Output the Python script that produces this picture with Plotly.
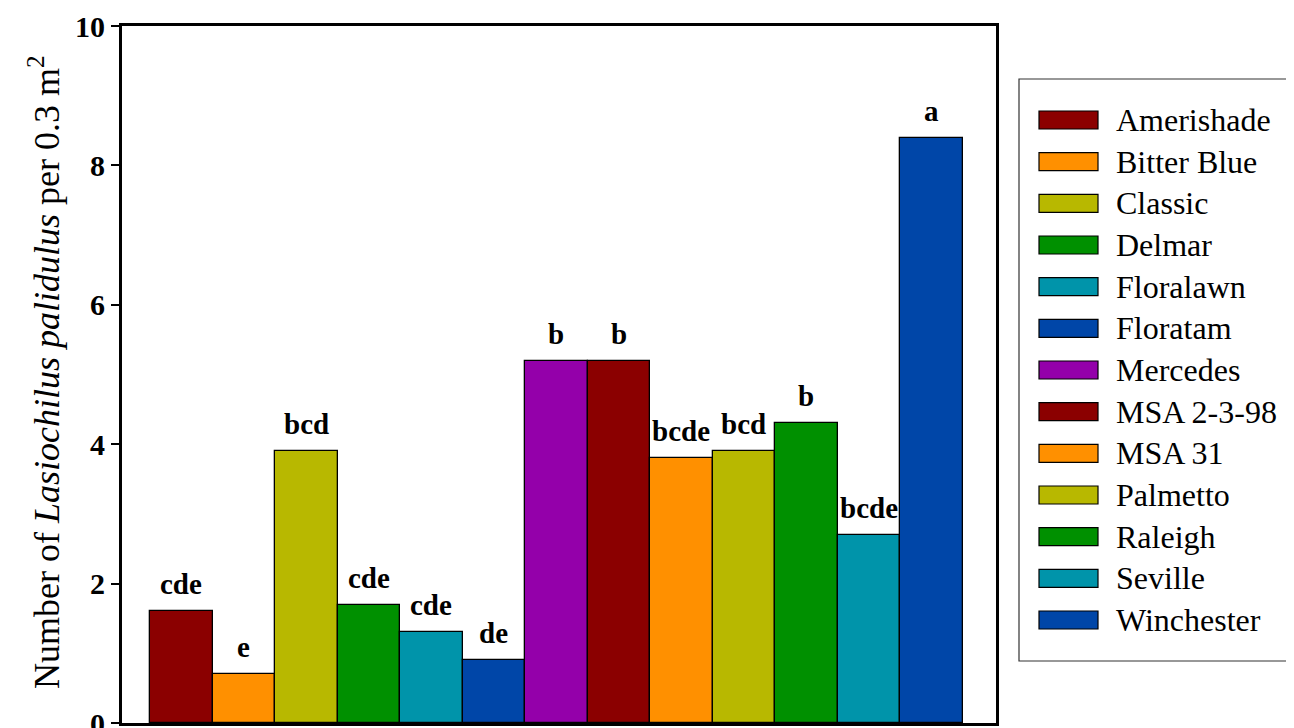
import plotly.graph_objects as go

cultivars = ["Amerishade", "Bitter Blue", "Classic", "Delmar", "Floralawn", "Floratam",
             "Mercedes", "MSA 2-3-98", "MSA 31", "Palmetto", "Raleigh", "Seville", "Winchester"]
values = [1.6, 0.7, 3.9, 1.7, 1.3, 0.9, 5.2, 5.2, 3.8, 3.9, 4.3, 2.7, 8.4]
letters = ["cde", "e", "bcd", "cde", "cde", "de", "b", "b", "bcde", "bcd", "b", "bcde", "a"]
colors = ["#8B0000", "#FF9000", "#B8B800", "#009000", "#0094AA", "#0046A8", "#9400AA",
          "#8B0000", "#FF9000", "#B8B800", "#009000", "#0094AA", "#0046A8"]
y_ticks = [0, 2, 4, 6, 8, 10]

OFF = 8  # default page (body) margin of the html page
W, H = 1294 - OFF, 728 - OFF
# plot-area edges in page pixels
PL, PR, PT, PB = 122, 996, 26, 723
L, R, T, B = PL - OFF, PR - OFF, PT - OFF, PB - OFF
serif = "Liberation Serif"

fig = go.Figure()
fig.add_trace(go.Bar(
    x=list(range(len(cultivars))), y=values, width=1.0,
    marker=dict(color=colors, line=dict(color="black", width=1.3)),
    showlegend=False, hoverinfo="y",
))

for i, (v, t) in enumerate(zip(values, letters)):
    fig.add_annotation(x=i, y=v, text="<b>%s</b>" % t, showarrow=False,
                       xanchor="center", yanchor="bottom", yshift=9,
                       font=dict(family=serif, size=29, color="black"))


def px_x(px):
    return (px - OFF - L) / (R - L)


def px_y(py):
    return (B - (py - OFF)) / (B - T)


# y-axis title
fig.add_annotation(xref="paper", yref="paper", x=px_x(44), y=px_y(372),
                   text="Number of <i>Lasiochilus palidulus</i> per 0.3 m<sup>2</sup>",
                   textangle=-90, showarrow=False, xanchor="center", yanchor="middle",
                   font=dict(family=serif, size=36, color="black"))

# custom legend (paper coordinates)
fig.add_shape(type="rect", xref="paper", yref="paper",
              x0=px_x(1019), x1=px_x(1292), y0=px_y(661), y1=px_y(79),
              line=dict(color="#333333", width=1.2), fillcolor="white")
step = (620 - 120) / (len(cultivars) - 1)
for i, (name, c) in enumerate(zip(cultivars, colors)):
    cy = 120 + i * step
    fig.add_shape(type="rect", xref="paper", yref="paper",
                  x0=px_x(1039), x1=px_x(1098), y0=px_y(cy + 9), y1=px_y(cy - 9),
                  line=dict(color="black", width=1.2), fillcolor=c)
    fig.add_annotation(xref="paper", yref="paper", x=px_x(1114), y=px_y(cy),
                       text=name, showarrow=False, xanchor="left", yanchor="middle",
                       font=dict(family=serif, size=32, color="black"))

fig.update_layout(
    width=W, height=H, autosize=False,
    margin=dict(l=L, r=W - R, t=T, b=H - B, pad=0, autoexpand=False),
    plot_bgcolor="white", paper_bgcolor="white",
    bargap=0,
    font=dict(family=serif, color="black"),
    xaxis=dict(range=[-0.948, 13.036], showticklabels=False, ticks="", automargin=False,
               showgrid=False, zeroline=False, showline=True, mirror=True,
               linecolor="black", linewidth=3, fixedrange=True),
    yaxis=dict(range=[0, 10], tickvals=y_ticks, ticktext=["<b>%d</b>" % v for v in y_ticks],
               automargin=False, ticklabeloverflow="allow",
               ticks="outside", ticklen=8, tickwidth=2, tickcolor="black",
               tickfont=dict(family=serif, size=30, color="black"),
               showgrid=False, zeroline=False, showline=True, mirror=True,
               linecolor="black", linewidth=3),
)

fig.write_html("out.html")
